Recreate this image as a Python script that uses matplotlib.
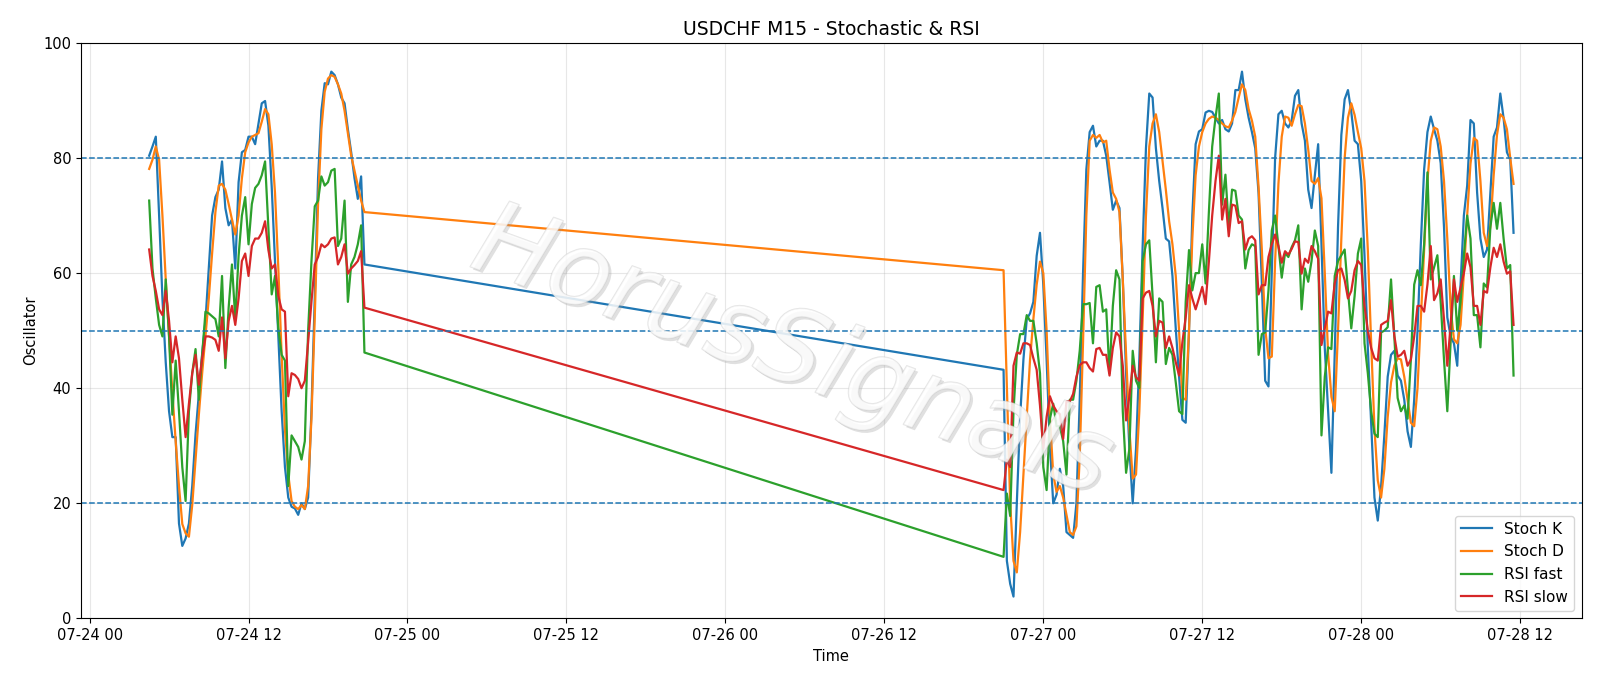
import numpy as np
import pandas as pd
import matplotlib
matplotlib.use("Agg")
import matplotlib.pyplot as plt
import matplotlib.dates as mdates
import matplotlib.patheffects as pe

# 15-minute bars, Friday session then Sunday/Monday session (weekend gap)
seg1_start = "2020-07-24 04:30"
seg2_start = "2020-07-26 21:00"

stoch_k_1 = [80.4, 82, 83.7, 70, 55.6, 44.5, 36, 31.5, 31.5, 16.5, 12.6, 13.9, 16.5, 23, 32, 39,
             46, 51.7, 60.8, 70, 73.2, 74.5, 79.4, 71.3, 68.3, 69.3, 60.8, 75.8, 81, 81.4, 83.7, 83.7,
             82.4, 86, 89.5, 89.9, 85.6, 75, 62, 49, 36, 26.3, 21, 19.4, 19.1, 18, 20, 19,
             21, 36, 55.6, 76.5, 88.2, 93, 92.8, 95, 94.4, 92.8, 90.5, 89.5, 85, 81, 76.5, 72.9,
             76.8, 61.5]
stoch_d_1 = [78.1, 79.7, 82, 79.7, 70, 58.9, 49, 39.3, 30.8, 23, 16.4, 14.8, 14.2, 19.7, 27.6, 35.4,
             42.6, 49, 55.6, 63.4, 70.6, 75.2, 75.5, 74.5, 72, 69.3, 66.7, 70, 76.5, 81, 82.7, 83.7,
             84, 84.3, 86.3, 88.5, 87.6, 82.4, 73.9, 60.8, 45.8, 32.8, 25, 20.4, 19.4, 19, 19.7, 19,
             23, 34.7, 52.3, 72, 85, 91.5, 93.8, 94.4, 94.1, 92.8, 91.2, 88.2, 84.3, 80.4, 77.8, 75.2,
             72.6, 70.6]
rsi_fast_1 = [72.6, 60.8, 55.6, 51, 49, 58.9, 49, 35.4, 44.8, 36, 26.3, 20.4, 36, 42.6, 46.8, 38,
              45.8, 53.3, 53, 52.5, 52, 49, 59.5, 43.5, 54, 61.5, 52, 63, 70, 73.2, 65, 72,
              74.8, 75.5, 77, 79.4, 68, 56.3, 59.5, 50.4, 45.8, 44.8, 23, 31.8, 30.8, 29.8, 27.6, 30.8,
              50, 62, 71.6, 72.6, 76.8, 75.2, 75.8, 77.8, 78.1, 64.7, 66, 72.6, 55, 61.5, 62.8, 65,
              68.3, 46.2]
rsi_slow_1 = [64.1, 59.5, 56.9, 53.7, 52.7, 56.9, 51.7, 44.5, 49, 45.2, 38, 31.5, 37.3, 42.6, 45.8, 40.6,
              45.2, 49, 49, 48.8, 48.4, 46.5, 52.3, 45.2, 51.7, 54.3, 51, 55.6, 62.1, 63.4, 59.5, 64.7,
              66, 66, 67, 69, 64, 60.8, 61.5, 56, 53.7, 53.3, 38.6, 42.6, 42.3, 41.6, 40, 41.3,
              48, 55, 61.5, 62.8, 65, 64.5, 65, 66, 66.2, 61.5, 62.8, 65, 59.9, 60.8, 61.4, 62.1,
              63.8, 54]

stoch_k_2 = [43.2, 10, 6, 3.8, 20, 35, 45, 52, 53, 55, 63, 67, 58, 45, 30, 20,
             21.5, 26, 23, 15, 14.5, 14, 20, 38, 60, 78, 84.5, 85.6, 82, 83, 83, 80.4,
             75.8, 71, 72.6, 71.3, 58.9, 42.6, 29.5, 20, 29.5, 45, 64.7, 81.7, 91.2, 90.5, 81.7, 76,
             71.3, 66, 65.5, 59.5, 50.4, 42, 34.5, 34, 50, 70, 82.4, 84.6, 85, 87.9, 88.2, 88,
             87, 86, 86.6, 85, 84.6, 86, 91.8, 91.8, 95, 90.2, 87, 84.5, 81.7, 73.9, 58.2, 41.3,
             40.3, 60, 80, 87.6, 88.2, 86, 85.3, 86.5, 90.8, 91.8, 86, 83, 74.5, 71.3, 77, 82.4,
             65, 47, 36, 25.3, 46, 68, 84, 90.2, 91.8, 88, 83, 82.4, 76, 63, 47, 34,
             21, 17, 22.9, 32, 42, 45.8, 46.5, 42.2, 41.3, 38, 32.5, 29.8, 38, 50, 65, 78,
             84.5, 87.2, 85, 83, 79.1, 68, 52.3, 49, 47.8, 43.9, 58, 70, 75.2, 86.6, 86, 74,
             66, 62.8, 64.1, 74, 83.7, 85.3, 91.2, 86.9, 81, 79.7, 67]
stoch_d_2 = [60.5, 40, 20, 10, 8, 15, 25, 35, 45, 52, 58, 62, 60, 50, 35, 25,
             22, 23, 21, 18, 15, 14.5, 16, 28, 48, 70, 83, 84, 83.5, 84, 82.7, 83,
             78, 74, 72.9, 70.6, 58.9, 45.8, 32.8, 24.3, 25, 36, 52, 70, 82, 86, 87.6, 84.5,
             79.5, 74.5, 69, 65, 59.5, 50, 38.3, 38, 50, 66, 77, 82, 84.5, 86, 86.8, 87.2,
             87, 86.6, 86, 85.5, 85.3, 86.5, 88, 90.5, 92.8, 91.8, 88.5, 86.5, 83.7, 75, 64, 50.4,
             45.2, 45.5, 62, 75.5, 83.7, 87.2, 87, 85.6, 87.6, 89.2, 89, 86, 81.5, 76, 75.5, 76.5,
             73, 60, 46, 38.5, 36, 50, 66, 80, 87, 89.5, 87.5, 84.5, 81.7, 76, 64, 48,
             33, 24, 21, 26, 35, 41, 43.9, 45.2, 45, 42, 38, 34, 33.4, 40, 52, 64,
             76, 83, 85.3, 85, 82, 76, 66, 54, 48.5, 47.8, 51, 60, 70, 79, 83.5, 83,
             76, 67, 64.7, 68, 77, 84, 87.6, 87, 85, 80, 75.5]
rsi_fast_2 = [10.7, 21.7, 17.8, 36, 45.8, 49.4, 49.4, 52.7, 51.7, 51.7, 47.8, 42.6, 26.3, 22.3, 34.7, 37.3,
              33.4, 33.4, 30.8, 25, 38, 38, 41.3, 46.5, 54.6, 54.6, 54.8, 47.8, 57.6, 57.9, 53.3, 53.7,
              42.6, 54.3, 60.5, 58.9, 36, 25.3, 29.5, 46.5, 41.3, 40, 62.1, 65, 65.7, 56, 44.5, 55.6,
              55, 44.2, 47, 45.8, 41, 36, 35.5, 55, 64, 57, 60, 60, 65, 58.2, 70.6, 82,
              87, 91.2, 71.9, 77.1, 68, 74.5, 74.3, 70, 69.3, 60.8, 64, 65, 64.7, 45.8, 49.4, 49.7,
              57, 67.4, 70, 64.7, 59.2, 63.5, 62.8, 64.5, 65.7, 68.3, 53.7, 60.8, 58.5, 62.1, 67.4, 64.7,
              31.8, 42, 47.1, 46.8, 59.5, 62.1, 63.1, 64.1, 57, 50.4, 56, 63.4, 66, 47.8, 42.6, 36,
              32.1, 31.5, 49.7, 50, 50.6, 58.9, 49, 38.3, 36, 37, 34.7, 45, 58, 60.5, 57.9, 65,
              77.5, 58.9, 61, 63.1, 55, 45, 36, 48, 59.5, 50, 55, 63, 70, 66, 52.7, 52.7,
              47.1, 58.2, 57.5, 68, 72.2, 67.7, 72.2, 66, 60.8, 61.4, 42.2]
rsi_slow_2 = [22.3, 27.6, 26.3, 43.9, 46.2, 46, 47.8, 47.8, 47.5, 45.2, 43.2, 37, 29.5, 35, 38.6, 37,
              36, 35.5, 31.2, 37.7, 37.7, 39, 42, 44, 44.5, 44.5, 43.5, 42.9, 46.8, 47, 45.8, 45.8,
              42.2, 47, 49.7, 49, 43.9, 34.4, 38.6, 43.9, 41.9, 41.3, 55.6, 56.6, 56.9, 54.3, 49, 51.7,
              51.4, 47, 49, 47, 44.5, 42.2, 48, 52.3, 57.9, 55.6, 53.7, 55.6, 57.6, 54.6, 62, 70,
              76, 80.4, 69.3, 72.9, 66.4, 71.9, 71.7, 68.7, 69, 64.1, 66, 66.4, 65.7, 56.3, 57.9, 57.9,
              62.8, 65, 66.7, 64.7, 61.8, 63.8, 63.2, 64.2, 65.5, 65.4, 59.9, 62.5, 61.8, 64.7, 63.8, 62.5,
              47.5, 50.4, 53.3, 53, 58.2, 60.5, 60.8, 58.8, 55.6, 56.9, 60.5, 62.1, 61.4, 54.3, 50, 47,
              45.2, 44.8, 51, 51.4, 51.7, 55.3, 49.1, 45.5, 45.8, 46.5, 43.9, 45, 49, 54.3, 54.3, 53.3,
              58, 64.7, 55.3, 56.5, 58.9, 52, 43.9, 51, 58.9, 55, 57.5, 60, 63.4, 61, 54.3, 54.3,
              51, 56.9, 56.6, 61, 64.4, 62.8, 65, 62, 59.9, 60.3, 51]

levels = [20, 50, 80]

t1 = pd.date_range(seg1_start, periods=len(stoch_k_1), freq="15min")
t2 = pd.date_range(seg2_start, periods=len(stoch_k_2), freq="15min")
t = t1.append(t2)

fig = plt.figure(figsize=(16, 6.86), dpi=100)
ax = fig.add_axes([0.0506, 0.0985, 0.938, 0.839])

ax.plot(t, stoch_k_1 + stoch_k_2, label="Stoch K", lw=1.6)
ax.plot(t, stoch_d_1 + stoch_d_2, label="Stoch D", lw=1.6)
ax.plot(t, rsi_fast_1 + rsi_fast_2, label="RSI fast", lw=1.6)
ax.plot(t, rsi_slow_1 + rsi_slow_2, label="RSI slow", lw=1.6)

for lv in levels:
    ax.axhline(lv, color="C0", ls="--", lw=1.1)

ax.set_ylim(0, 100)
ax.xaxis.set_major_locator(mdates.HourLocator(byhour=[0, 12]))
ax.xaxis.set_major_formatter(mdates.DateFormatter("%m-%d %H"))
ax.tick_params(labelsize=10.5)
ax.grid(True, alpha=0.3)
ax.set_title("USDCHF M15 - Stochastic & RSI", fontsize=13.5)
ax.set_xlabel("Time", fontsize=10.5)
ax.set_ylabel("Oscillator", fontsize=10.5)
ax.legend(loc="lower right", fontsize=11)

# watermark: thin hollow grey lettering with a faint drop shadow
ax.text(0.474, 0.461, "HorusSignals", transform=ax.transAxes, fontsize=74,
        color="white", alpha=0.45, rotation=-20, ha="center", va="center",
        fontstyle="italic", zorder=3,
        path_effects=[pe.withSimplePatchShadow(offset=(2, -2), shadow_rgbFace="#999999", alpha=0.3),
                      pe.Stroke(linewidth=1.0, foreground="#c4c4c4"),
                      pe.Normal()])

fig.savefig("out.png", dpi=100)
